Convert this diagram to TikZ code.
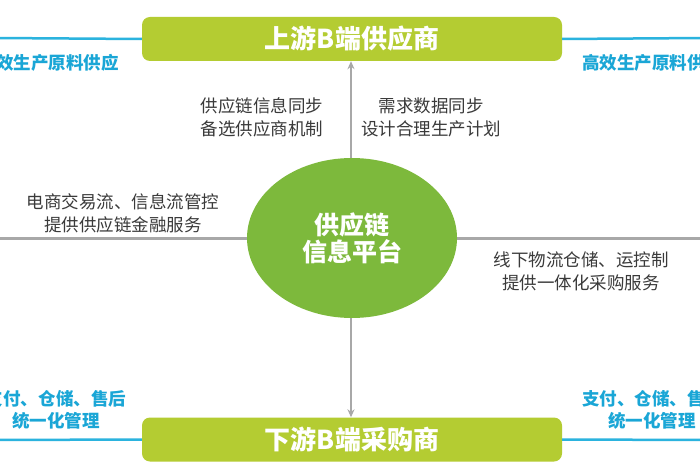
\documentclass[tikz,border=0pt]{standalone}
\usepackage{fontspec}
\newfontfamily\cjk{Noto Sans CJK SC}
\usetikzlibrary{arrows.meta,shapes.geometric}
\definecolor{boxgreen}{HTML}{B4CC32}
\definecolor{ellgreen}{HTML}{7DB93C}
\definecolor{cyanline}{HTML}{2BB3DE}
\definecolor{cyantext}{HTML}{1AA6D6}
\definecolor{grayline}{HTML}{A8A8A8}
\definecolor{txtgray}{HTML}{3A3A3A}
\tikzset{
  greenbox/.style={fill=boxgreen, rounded corners=8pt, minimum width=420pt, minimum height=44pt, inner sep=0pt,
    text=white, font=\cjk\bfseries\fontsize{26}{30}\selectfont},
  hub/.style={ellipse, fill=ellgreen, minimum width=210pt, minimum height=160pt, inner sep=0pt,
    text=white, align=center, font=\cjk\bfseries\fontsize{25}{29}\selectfont},
  note/.style={text=txtgray, align=center, inner sep=0pt, font=\cjk\fontsize{17.5}{23}\selectfont},
  bluenote/.style={text=cyantext, align=center, inner sep=0pt, font=\cjk\bfseries\fontsize{17.5}{22}\selectfont},
  cyanconn/.style={draw=cyanline, line width=2.5pt},
  grayconn/.style={draw=grayline, line width=2.5pt},
  arrowconn/.style={draw=grayline, line width=2pt, {Stealth[length=8pt,width=7pt]}-{Stealth[length=8pt,width=7pt]}}
}
\begin{document}
\begin{tikzpicture}[x=1pt,y=-1pt]
\useasboundingbox (0,0) rectangle (700,470);
\clip (0,0) rectangle (700,470);
\fill[white] (0,0) rectangle (700,470);
% nodes
\node[greenbox] (top) at (352,39) {上游B端供应商};
\node[greenbox] (bot) at (352,439.5) {下游B端采购商};
\coordinate (tl) at (-5,38);
\coordinate (tr) at (705,38);
\coordinate (bl) at (-5,440);
\coordinate (br) at (705,440);
\coordinate (ml) at (-5,238.5);
\coordinate (mr) at (705,238.5);
% connectors behind hub
\draw[arrowconn] ([xshift=-1pt]top.south) -- ([xshift=-1pt]bot.north);
\draw[cyanconn] (tl) -- (top.west);
\draw[cyanconn] (top.east) -- (tr);
\draw[cyanconn] (bl) -- (bot.west);
\draw[cyanconn] (bot.east) -- (br);
\draw[grayconn] (ml) -- (352,238.5);
\draw[grayconn] (352,238.5) -- (mr);
\node[hub] (hub) at (352,238) {供应链\\[-2pt]信息平台};
% notes
\node[note] (n1) at (262,117) {供应链信息同步\\备选供应商机制};
\node[note] (n2) at (431,117) {需求数据同步\\设计合理生产计划};
\node[note] (n3) at (123,213.5) {电商交易流、信息流管控\\提供供应链金融服务};
\node[note] (n4) at (581,271) {线下物流仓储、运控制\\提供一体化采购服务};
\node[bluenote, anchor=east] (b1) at (119,63) {高效生产原料供应};
\node[bluenote, anchor=west] (b2) at (582,63) {高效生产原料供应};
\node[bluenote] (b3) at (56,410) {支付、仓储、售后\\统一化管理};
\node[bluenote] (b4) at (652,410) {支付、仓储、售后\\统一化管理};
\end{tikzpicture}
\end{document}
